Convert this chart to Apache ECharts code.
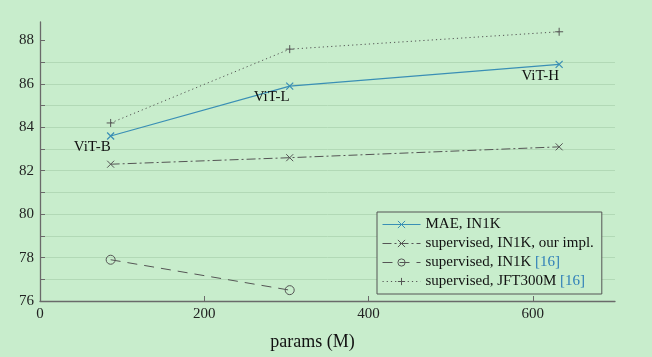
<!DOCTYPE html>
<html><head><meta charset="utf-8">
<script src="https://cdn.jsdelivr.net/npm/echarts@6/dist/echarts.min.js"></script>
<style>html,body{margin:0;padding:0;background:#c8edcc}#c{width:652px;height:357px}</style>
</head><body><div id="c"></div>
<script>
const params = [86, 304, 632];
const modelNames = ['ViT-B', 'ViT-L', 'ViT-H'];
const maeIN1K = [83.6, 85.9, 86.9];
const supOurImpl = [82.3, 82.6, 83.1];
const supIN1K = [77.9, 76.5];
const supJFT = [84.2, 87.6, 88.4];
const seriesNames = ['MAE, IN1K', 'supervised, IN1K, our impl.', 'supervised, IN1K [16]', 'supervised, JFT300M [16]'];
const xTicks = [0, 200, 400, 600];
const yTicks = [76, 77, 78, 79, 80, 81, 82, 83, 84, 85, 86, 87, 88];
const yTickLabels = [76, 78, 80, 82, 84, 86, 88];

const serif = 'Liberation Serif';
const gray = '#555';
const blue = '#3a8fb5';
const X = 'path://M0,0L10,10M10,0L0,10';
const PLUS = 'path://M5,0L5,10M0,5L10,5';

function pts(vals){ return vals.map((v,i)=>[params[i], v]); }

const chart = echarts.init(document.getElementById('c'));
chart.setOption({
  backgroundColor: '#c8edcc',
  animation: false,
  grid: {left: 40, right: 37, top: 22, bottom: 56},
  xAxis: {
    type: 'value', min: 0, max: 700, interval: 100,
    name: 'params (M)', nameLocation: 'middle', nameGap: 32,
    nameTextStyle: {fontFamily: serif, fontSize: 18, color: '#111', padding: [0, 30, 0, 0]},
    axisLine: {lineStyle: {color: '#6a6a6a', width: 1.3}},
    axisTick: {inside: true, length: 5, lineStyle: {color: '#6a6a6a'}, customValues: xTicks},
    axisLabel: {fontFamily: serif, fontSize: 15, color: '#222', margin: 6, customValues: xTicks},
    splitLine: {show: false}
  },
  yAxis: {
    type: 'value', min: 76, max: 88.85, interval: 1,
    axisLine: {show: true, lineStyle: {color: '#6a6a6a', width: 1.3}},
    axisTick: {show: true, inside: true, length: 5, lineStyle: {color: '#6a6a6a'}, customValues: yTicks},
    axisLabel: {fontFamily: serif, fontSize: 15, color: '#222', margin: 6, customValues: yTickLabels},
    splitLine: {show: true, showMinLine: false, showMaxLine: false, lineStyle: {color: '#b2d9b6', width: 1}}
  },
  legend: {
    orient: 'vertical', left: 377, top: 212,
    backgroundColor: '#c8edcc', borderColor: '#555', borderWidth: 1,
    padding: [5, 8, 5, 5], itemGap: 4, itemWidth: 38, itemHeight: 9,
    data: seriesNames,
    lineStyle: {width: 1},
    itemStyle: {borderWidth: 1},
    formatter: name => name.replace('[16]', '{b|[16]}'),
    textStyle: {fontFamily: serif, fontSize: 15, color: '#111',
      rich: {b: {fontFamily: serif, fontSize: 15, color: '#2f7fb8'}}}
  },
  series: [
    {name: seriesNames[0], type: 'line', data: pts(maeIN1K), symbol: X, symbolSize: 7,
      lineStyle: {color: blue, width: 1.2}, itemStyle: {color: 'rgba(0,0,0,0)', borderColor: blue, borderWidth: 1.2},
      label: {show: true, position: ['50%', '50%'], align: 'right', verticalAlign: 'top', offset: [0, 4],
        fontFamily: serif, fontSize: 15, color: '#111',
        formatter: p => modelNames[p.dataIndex]}, z: 5},
    {name: seriesNames[1], type: 'line', data: pts(supOurImpl), symbol: X, symbolSize: 7,
      lineStyle: {color: gray, width: 1, type: [9, 3, 2, 3]}, itemStyle: {color: 'rgba(0,0,0,0)', borderColor: gray, borderWidth: 1}},
    {name: seriesNames[2], type: 'line', data: pts(supIN1K), symbol: 'circle', symbolSize: 9,
      lineStyle: {color: gray, width: 1, type: [10, 7]}, itemStyle: {color: 'rgba(0,0,0,0)', borderColor: gray, borderWidth: 1}},
    {name: seriesNames[3], type: 'line', data: pts(supJFT), symbol: PLUS, symbolSize: 8,
      lineStyle: {color: gray, width: 1, type: [1.2, 3]}, itemStyle: {color: 'rgba(0,0,0,0)', borderColor: gray, borderWidth: 1}}
  ]
});
</script></body></html>
